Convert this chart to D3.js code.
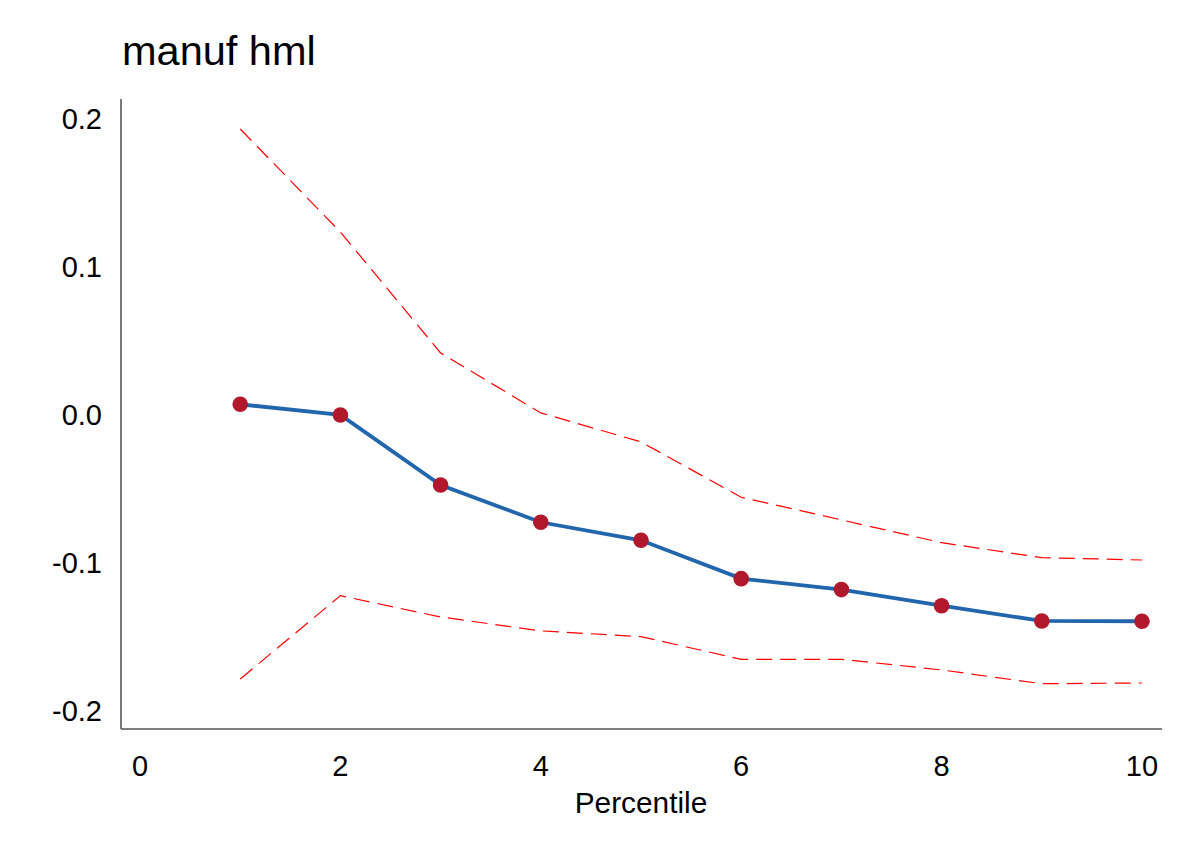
<!DOCTYPE html>
<html>
<head>
<meta charset="utf-8">
<script src="https://cdn.jsdelivr.net/npm/d3@7"></script>
<style>
  body { margin: 0; background: #fff; }
  text { font-family: "Liberation Sans", Arial, sans-serif; }
</style>
</head>
<body>
<svg id="chart" width="1193" height="868"></svg>
<script>
const percentiles = [1, 2, 3, 4, 5, 6, 7, 8, 9, 10];
const estimate = [0.0072, 0.0, -0.0473, -0.0725, -0.0847, -0.1106, -0.1180, -0.1289, -0.1392, -0.1394];
const upper = [0.1932, 0.1236, 0.0419, 0.0014, -0.0182, -0.0556, -0.0709, -0.0863, -0.0964, -0.0980];
const lower = [-0.1784, -0.1221, -0.1365, -0.1459, -0.1498, -0.1651, -0.1651, -0.1723, -0.1816, -0.1811];
const xTicks = [0, 2, 4, 6, 8, 10];
const yTicks = [-0.2, -0.1, 0.0, 0.1, 0.2];
const title = "manuf hml";
const xLabel = "Percentile";

const svg = d3.select("#chart");
const x = d3.scaleLinear().domain([-0.19, 10.2]).range([121, 1162]);
const y = d3.scaleLinear().domain([-0.2122, 0.2135]).range([729, 99]);

// axis lines
svg.append("line").attr("x1", x.range()[0]).attr("x2", x.range()[0])
  .attr("y1", y.range()[0]).attr("y2", y.range()[1])
  .attr("stroke", "#333").attr("stroke-width", 1.3);
svg.append("line").attr("x1", x.range()[0]).attr("x2", x.range()[1])
  .attr("y1", y.range()[0]).attr("y2", y.range()[0])
  .attr("stroke", "#555").attr("stroke-width", 1.3);

// tick labels
svg.selectAll("text.xt").data(xTicks).enter().append("text")
  .attr("class", "xt").attr("x", d => x(d)).attr("y", 776)
  .attr("text-anchor", "middle").attr("font-size", 29).attr("fill", "#000")
  .text(d => d);
svg.selectAll("text.yt").data(yTicks).enter().append("text")
  .attr("class", "yt").attr("x", 102).attr("y", d => y(d))
  .attr("dy", "0.36em")
  .attr("text-anchor", "end").attr("font-size", 29).attr("fill", "#000")
  .text(d => d3.format(".1f")(d).replace("−", "-"));

// labels
svg.append("text").attr("x", 122).attr("y", 65).attr("font-size", 41.5)
  .attr("fill", "#000").text(title);
svg.append("text").attr("x", 641).attr("y", 813).attr("text-anchor", "middle")
  .attr("font-size", 29.8).attr("fill", "#000").text(xLabel);

const line = d3.line().x((d, i) => x(percentiles[i])).y(d => y(d));

svg.append("path").datum(upper).attr("d", line).attr("fill", "none")
  .attr("stroke", "#ff0000").attr("stroke-width", 1.2).attr("stroke-dasharray", "16,8");
svg.append("path").datum(lower).attr("d", line).attr("fill", "none")
  .attr("stroke", "#ff0000").attr("stroke-width", 1.2).attr("stroke-dasharray", "16,8");

svg.append("path").datum(estimate).attr("d", line).attr("fill", "none")
  .attr("stroke", "#2166ac").attr("stroke-width", 3.8);

svg.selectAll("circle.pt").data(estimate).enter().append("circle")
  .attr("class", "pt").attr("cx", (d, i) => x(percentiles[i])).attr("cy", d => y(d))
  .attr("r", 7.8).attr("fill", "#b2182b");
</script>
</body>
</html>
